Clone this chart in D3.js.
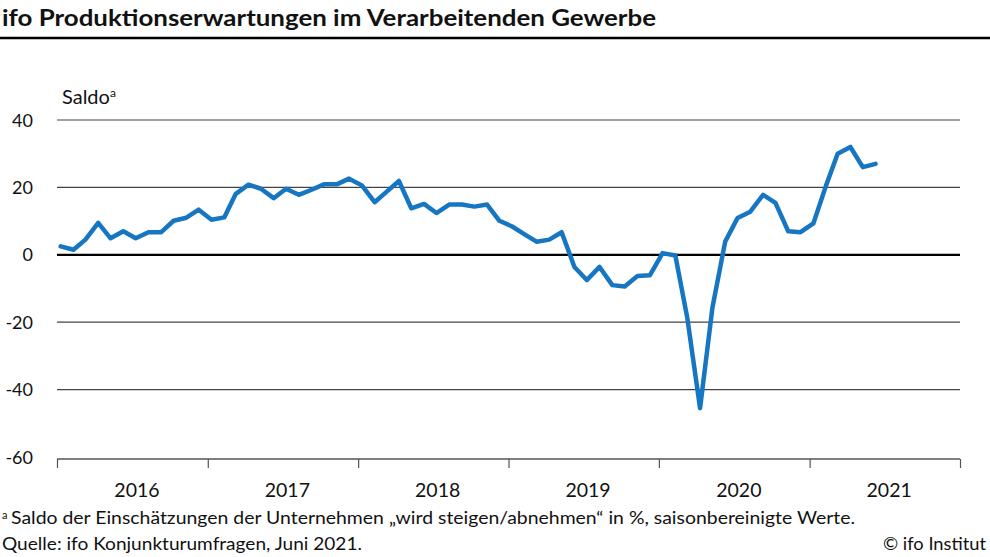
<!DOCTYPE html>
<html>
  <head>
    <title>ifo Produktionserwartungen</title>
    <script src="https://d3js.org/d3.v7.min.js"></script>
    <style>
      body { margin: 0; background: #fff; }
      text { font-family: Lato, "Open Sans", sans-serif; fill: #111; }
    </style>
  </head>
  <body>
    <svg width="990" height="557" id="mainsvg"></svg>
    <script>
      // monthly balance, Jan 2016 .. Jun 2021
      const startYear = 2016;
      const values = [
        2.5, 1.5, 4.5, 9.5, 4.9, 7.0, 4.9, 6.7, 6.7, 10.1, 11.0, 13.4,
        10.4, 11.1, 18.1, 20.8, 19.6, 16.8, 19.6, 17.8, 19.3, 20.9, 20.9, 22.6,
        20.6, 15.6, 18.6, 21.9, 13.8, 15.1, 12.4, 14.9, 14.9, 14.3, 14.9, 10.1,
        8.4, 6.0, 3.9, 4.5, 6.7, -3.6, -7.5, -3.6, -9.0, -9.4, -6.3, -6.1,
        0.5, -0.2, -18.7, -45.5, -15.7, 3.9, 10.9, 12.8, 17.8, 15.4, 7.0, 6.7,
        9.3, 20.6, 30.0, 32.0, 26.0, 27.0
      ];
      const yTicks = [40, 20, 0, -20, -40, -60];
      const years = [2016, 2017, 2018, 2019, 2020, 2021];

      const data = values.map((v, i) => ({
        date: new Date(startYear, i, 10),
        value: v
      }));

      const svg = d3.select('#mainsvg');
      const plotLeft = 57, plotRight = 960, plotTop = 120, plotBottom = 457;

      const xScale = d3.scaleTime()
        .domain([new Date(2016, 0, 1), new Date(2022, 0, 1)])
        .range([plotLeft, plotRight]);

      const yScale = d3.scaleLinear()
        .domain([-60, 40])
        .range([plotBottom, plotTop]);

      // title + rule
      svg.append('text').text('ifo Produktionserwartungen im Verarbeitenden Gewerbe')
        .attr('x', 2).attr('y', 26)
        .attr('font-size', 23).attr('font-weight', 'bold')
        .attr('textLength', 654).attr('lengthAdjust', 'spacingAndGlyphs');
      svg.append('line')
        .attr('x1', 0).attr('x2', 990).attr('y1', 38).attr('y2', 38)
        .attr('stroke', '#000').attr('stroke-width', 2.5);

      // gridlines
      svg.append('g').selectAll('line').data(yTicks.filter(d => d !== 0 && d !== -60)).join('line')
        .attr('x1', plotLeft).attr('x2', plotRight)
        .attr('y1', d => yScale(d)).attr('y2', d => yScale(d))
        .attr('stroke', '#444').attr('stroke-width', 1.2);

      // y labels
      svg.append('g').selectAll('text').data(yTicks).join('text')
        .attr('x', 33).attr('y', d => yScale(d) + 6.5)
        .attr('text-anchor', 'end').attr('font-size', 18)
        .text(d => d);

      svg.append('text').attr('x', 62).attr('y', 104).attr('font-size', 20)
        .text('Saldo')
        .append('tspan').attr('font-size', 12).attr('dy', -7).text('a');

      // x axis
      const xAxis = d3.axisBottom(xScale)
        .tickValues(d3.timeYear.range(new Date(2016, 0, 1), new Date(2022, 0, 2)))
        .tickSize(9).tickFormat('');
      const ax = svg.append('g').attr('transform', `translate(0, ${plotBottom + 2})`).call(xAxis);
      ax.select('.domain').attr('stroke', '#555').attr('stroke-width', 1.5).attr('d', `M${plotLeft},0H${plotRight}`);
      ax.selectAll('.tick line').attr('stroke', '#555').attr('stroke-width', 1.2);

      svg.append('g').selectAll('text').data(years).join('text')
        .attr('x', d => xScale(new Date(d, 6, 1)) + 5)
        .attr('y', 497).attr('text-anchor', 'middle').attr('font-size', 19.5)
        .text(d => d);

      // zero line
      svg.append('line')
        .attr('x1', plotLeft).attr('x2', plotRight)
        .attr('y1', yScale(0)).attr('y2', yScale(0))
        .attr('stroke', '#000').attr('stroke-width', 2.2);

      // series
      const line = d3.line().x(d => xScale(d.date)).y(d => yScale(d.value));
      svg.append('path').datum(data)
        .attr('d', line)
        .attr('fill', 'none')
        .attr('stroke', '#1776c2')
        .attr('stroke-width', 4.5)
        .attr('stroke-linejoin', 'round')
        .attr('stroke-linecap', 'round');

      // footnotes
      svg.append('text').attr('x', 2).attr('y', 519).attr('font-size', 11).text('a');
      svg.append('text').attr('x', 11).attr('y', 524).attr('font-size', 17)
        .attr('textLength', 844).attr('lengthAdjust', 'spacingAndGlyphs')
        .text('Saldo der Einschätzungen der Unternehmen „wird steigen/abnehmen“ in %, saisonbereinigte Werte.');
      svg.append('text').attr('x', 2).attr('y', 550).attr('font-size', 17)
        .attr('textLength', 360).attr('lengthAdjust', 'spacingAndGlyphs')
        .text('Quelle: ifo Konjunkturumfragen, Juni 2021.');
      svg.append('text').attr('x', 986).attr('y', 550).attr('font-size', 17)
        .attr('text-anchor', 'end')
        .attr('textLength', 103).attr('lengthAdjust', 'spacingAndGlyphs')
        .text('© ifo Institut');
    </script>
  </body>
</html>
